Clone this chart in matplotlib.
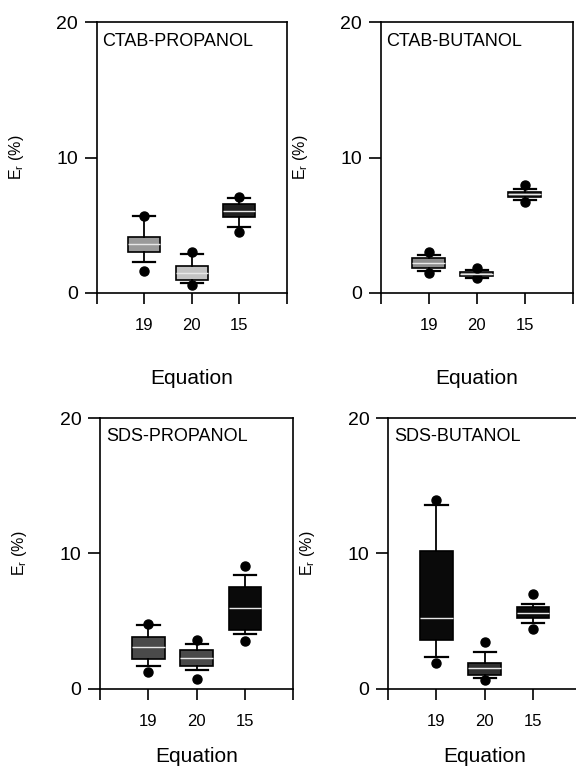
import matplotlib
matplotlib.use("Agg")
import matplotlib.pyplot as plt

plt.rcParams['font.family'] = ['Liberation Sans', 'DejaVu Sans']

# equation labels on the x axis
equations = ['19', '20', '15']

# panel titles
titles = ['CTAB-PROPANOL', 'CTAB-BUTANOL', 'SDS-PROPANOL', 'SDS-BUTANOL']

# box statistics, one list per panel, in equation order
# (whislo, q1, med, q3, whishi, low outlier, high outlier)
ctab_prop = [(2.3, 3.0, 3.6, 4.1, 5.7, 1.65, 5.7),
             (0.72, 0.96, 1.5, 2.0, 2.86, 0.57, 3.0),
             (4.9, 5.6, 6.05, 6.55, 7.0, 4.5, 7.1)]
ctab_but = [(1.62, 1.87, 2.24, 2.6, 2.8, 1.5, 3.0),
            (1.13, 1.25, 1.4, 1.57, 1.67, 1.08, 1.82),
            (6.9, 7.06, 7.28, 7.48, 7.7, 6.74, 7.97)]
sds_prop = [(1.65, 2.2, 3.1, 3.86, 4.72, 1.23, 4.8),
            (1.4, 1.65, 2.26, 2.83, 3.3, 0.74, 3.57),
            (4.04, 4.35, 6.0, 7.55, 8.4, 3.54, 9.08)]
sds_but = [(2.38, 3.62, 5.2, 10.2, 13.6, 1.9, 13.95),
           (0.79, 0.98, 1.53, 1.94, 2.75, 0.66, 3.42),
           (4.85, 5.22, 5.6, 6.03, 6.27, 4.43, 7.01)]
panels = [ctab_prop, ctab_but, sds_prop, sds_but]

# box fill colours per panel
fills = [['#9a9a9a', '#c4c4c4', '#202020'],
         ['#8c8c8c', '#8c8c8c', '#3a3a3a'],
         ['#4a4a4a', '#4a4a4a', '#0a0a0a'],
         ['#0a0a0a', '#303030', '#0a0a0a']]

# axes rectangles in figure fractions
rects = [[0.168, 0.618, 0.330, 0.353],
         [0.661, 0.618, 0.333, 0.353],
         [0.174, 0.102, 0.335, 0.353],
         [0.674, 0.102, 0.335, 0.353]]
xlabel_y = [-0.28, -0.28, -0.215, -0.215]

fig = plt.figure(figsize=(5.76, 7.67), dpi=100)

for i in range(4):
    ax = fig.add_axes(rects[i])
    stats = []
    for row in panels[i]:
        stats.append({'whislo': row[0], 'q1': row[1], 'med': row[2],
                      'q3': row[3], 'whishi': row[4],
                      'fliers': [row[5], row[6]]})
    bp = ax.bxp(stats, positions=[1, 2, 3], widths=0.68, patch_artist=True,
                showfliers=True,
                boxprops=dict(edgecolor='black', linewidth=1.2),
                whiskerprops=dict(color='black', linewidth=1.3),
                capprops=dict(color='black', linewidth=1.6),
                medianprops=dict(color='#e8e8e8', linewidth=1.0),
                flierprops=dict(marker='o', markerfacecolor='black',
                                markeredgecolor='black', markersize=6.5))
    for cap in bp['caps']:
        x0, x1 = cap.get_xdata()
        c = (x0 + x1) / 2
        cap.set_xdata([c - 0.23, c + 0.23])
    for patch, col in zip(bp['boxes'], fills[i]):
        patch.set_facecolor(col)

    ax.set_xlim(0, 4)
    ax.set_ylim(0, 20)
    ax.set_xticks([0, 1, 2, 3, 4])
    ax.set_xticklabels(['', equations[0], equations[1], equations[2], ''])
    ax.set_yticks([0, 10, 20])
    ax.tick_params(axis='x', direction='out', length=8, width=1.2,
                   labelsize=12, pad=10)
    ax.tick_params(axis='y', direction='out', length=8.5, width=1.2,
                   labelsize=14, pad=5)
    for sp in ax.spines.values():
        sp.set_linewidth(1.2)

    ax.set_ylabel('E$_\\mathregular{r}$ (%)', fontsize=11.5)
    ax.yaxis.set_label_coords(-0.37, 0.5)
    ax.set_xlabel('Equation', fontsize=15)
    ax.xaxis.set_label_coords(0.5, xlabel_y[i])
    ax.text(0.03, 0.93, titles[i], transform=ax.transAxes, fontsize=13,
            ha='left', va='center')

fig.savefig('out.png', dpi=100)
